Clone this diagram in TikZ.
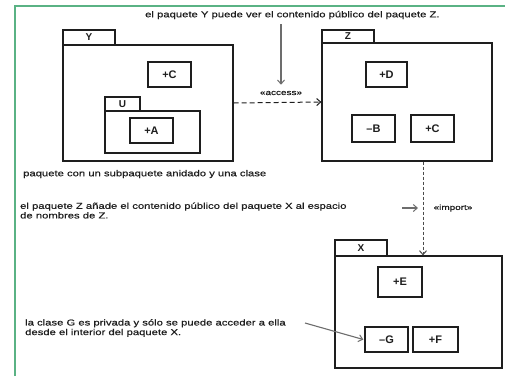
\documentclass[tikz,border=0pt]{standalone}
\usepackage{fontspec}
\setmainfont{Liberation Sans}
\newfontfamily\nf[FakeStretch=1.31,FakeBold=0.6]{Liberation Sans}
\usetikzlibrary{arrows.meta}
\definecolor{frameg}{RGB}{90,178,132}
\definecolor{ink}{RGB}{30,30,30}
\tikzset{
  pkg/.style={draw=ink, line width=1.2pt, inner sep=0pt, fill=white},
  tabbox/.style={draw=ink, line width=1.2pt, inner sep=0pt, font=\bfseries\fontsize{10}{10}\selectfont, text=ink},
  cls/.style={draw=ink, line width=1.4pt, inner sep=0pt, fill=white, font=\bfseries\fontsize{11}{11}\selectfont, text=ink},
  note/.style={font=\nf\fontsize{8.6}{9.6}\selectfont, text=ink, inner sep=0pt, align=left},
  stereo/.style={font=\nf\fontsize{7.6}{8}\selectfont, text=ink, inner sep=0pt},
  barb/.style={-{Straight Barb[length=4pt,width=7pt,line width=1pt]}},
}
\begin{document}
\begin{tikzpicture}[x=1pt,y=-1pt]
\useasboundingbox (0,0) rectangle (505,376);
\draw[frameg, line width=1.5pt] (15,376) -- (15,6) -- (505,6);

% Package Y
\node[tabbox, minimum width=52pt, minimum height=15pt] (Ytab) at (89,37.5) {Y};
\node[pkg, minimum width=170pt, minimum height=116pt] (Ybody) at (148,103) {};
\node[cls, minimum width=43pt, minimum height=25pt] (YC) at (169.5,74.5) {+C};
% Package U
\node[tabbox, minimum width=35pt, minimum height=14pt] (Utab) at (122.5,104) {U};
\node[pkg, minimum width=95pt, minimum height=42pt] (Ubody) at (152.5,132) {};
\node[cls, minimum width=43pt, minimum height=25pt] (UA) at (151.5,130.5) {+A};

% Package Z
\node[tabbox, minimum width=52pt, minimum height=13pt] (Ztab) at (348,36.5) {Z};
\node[pkg, minimum width=170pt, minimum height=118pt] (Zbody) at (407,102) {};
\node[cls, minimum width=41pt, minimum height=25pt] (ZD) at (386.5,74.5) {+D};
\node[cls, minimum width=43pt, minimum height=27pt] (ZB) at (373.5,128.5) {–B};
\node[cls, minimum width=43pt, minimum height=27pt] (ZC) at (432.5,128.5) {+C};

% Package X
\node[tabbox, minimum width=52pt, minimum height=16pt] (Xtab) at (361,248) {X};
\node[pkg, minimum width=167pt, minimum height=112pt] (Xbody) at (418.5,312) {};
\node[cls, minimum width=44pt, minimum height=30pt] (XE) at (400,282) {+E};
\node[cls, minimum width=43pt, minimum height=25pt] (XG) at (386.5,339.5) {–G};
\node[cls, minimum width=45pt, minimum height=25pt] (XF) at (435.5,339.5) {+F};

% Notes
\node[note, anchor=west] (nY) at (145,15) {el paquete Y puede ver el contenido público del paquete Z.};
\node[note, anchor=west] (nU) at (23,174) {paquete con un subpaquete anidado y una clase};
\node[note, anchor=west] (nZ) at (20,210.5) {el paquete Z añade el contenido público del paquete X al espacio\\de nombres de Z.};
\node[note, anchor=west] (nG) at (25,328) {la clase G es privada y sólo se puede acceder a ella\\desde el interior del paquete X.};

% Stereotypes
\node[stereo] (acc) at (281,93) {«access»};
\node[stereo] (imp) at (453,208) {«import»};

% Dependencies
\draw[ink, line width=1pt, dash pattern=on 5pt off 3pt, barb] (Ybody.east) -- (Zbody.west);
\coordinate (ix) at (423,0);
\draw[ink!80, line width=1pt, dash pattern=on 3pt off 2pt, barb] (Zbody.south -| ix) -- (Xbody.north -| ix);

% Note arrows
\draw[ink!65, line width=1.2pt, barb] (nY.south -| acc) ++(0,5) -- ([yshift=6pt]acc.north);
\coordinate (zs) at (402,208);
\coordinate (ze) at (418,208);
\draw[ink!65, line width=1.2pt, barb] (zs) -- (ze);
\coordinate (gs) at (305,323);
\draw[ink!65, line width=1.1pt, barb] (gs) -- ([xshift=-1pt]XG.west);
\end{tikzpicture}
\end{document}
